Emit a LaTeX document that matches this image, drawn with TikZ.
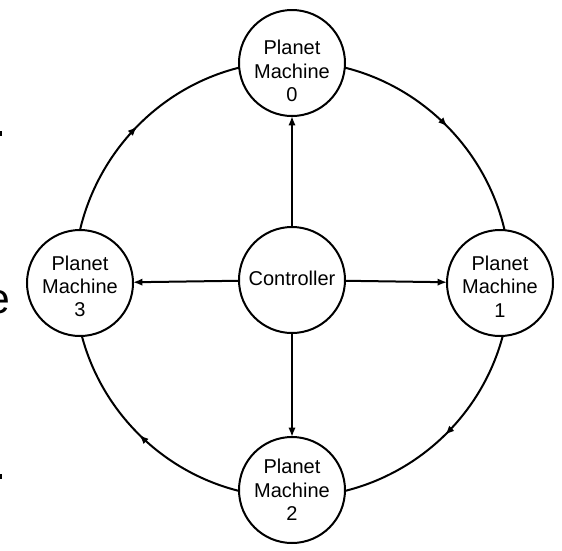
\documentclass[tikz,border=0pt]{standalone}
\usepackage{fontspec}
\setmainfont{Liberation Sans}
\usetikzlibrary{arrows.meta,decorations.markings}
\begin{document}
\begin{tikzpicture}[x=0.75pt,y=0.75pt,
  machine/.style={circle,draw,line width=1.5pt,minimum size=79.5pt,inner sep=0pt,outer sep=0pt},
  txt/.style={align=center,inner sep=0pt,font=\fontsize{15}{17.6}\selectfont},
  link/.style={line width=1.5pt,-{Latex[length=7pt,width=5.5pt]}},
  ring/.style={line width=1.5pt,looseness=0.915,postaction={decorate},
    decoration={markings,mark=at position 0.5 with {\arrow{Latex[length=7pt,width=5.5pt]}}}}
]
\useasboundingbox (0,0) rectangle (562,-551);
\clip (0,0) rectangle (562,-551);
\node[machine,label={[txt,yshift=-6pt]center:{Planet\\Machine\\0}}] (p0) at (292,-63) {};
\node[machine,label={[txt,yshift=1pt]center:Controller}] (c) at (292,-280) {};
\node[machine,label={[txt,yshift=-2.5pt]center:{Planet\\Machine\\1}}] (p1) at (500,-283) {};
\node[machine,label={[txt]center:{Planet\\Machine\\2}}] (p2) at (292,-490) {};
\node[machine,label={[txt,yshift=-2.5pt]center:{Planet\\Machine\\3}}] (p3) at (80,-283) {};
\draw[link] (c) -- (p0);
\draw[link] (c) -- (p1);
\draw[link] (c) -- (p2);
\draw[link] (c) -- (p3);
\draw[ring] (p0.-5.9) to[out=-14,in=103.2] (p1.85.4);
\draw[ring] (p1.-87.1) to[out=-104.9,in=14] (p2.-1.6);
\draw[ring] (p2.181.6) to[out=166,in=-75.1] (p3.-88.6);
\draw[ring] (p3.90.2) to[out=76.7,in=194] (p0.185.9);
\fill (0,-131) rectangle (2.5,-136);
\fill (0,-474) rectangle (2.5,-479);
\node[anchor=base east,inner sep=0pt,font=\fontsize{32}{36}\selectfont] (e) at (10,-313) {e};
\end{tikzpicture}
\end{document}
